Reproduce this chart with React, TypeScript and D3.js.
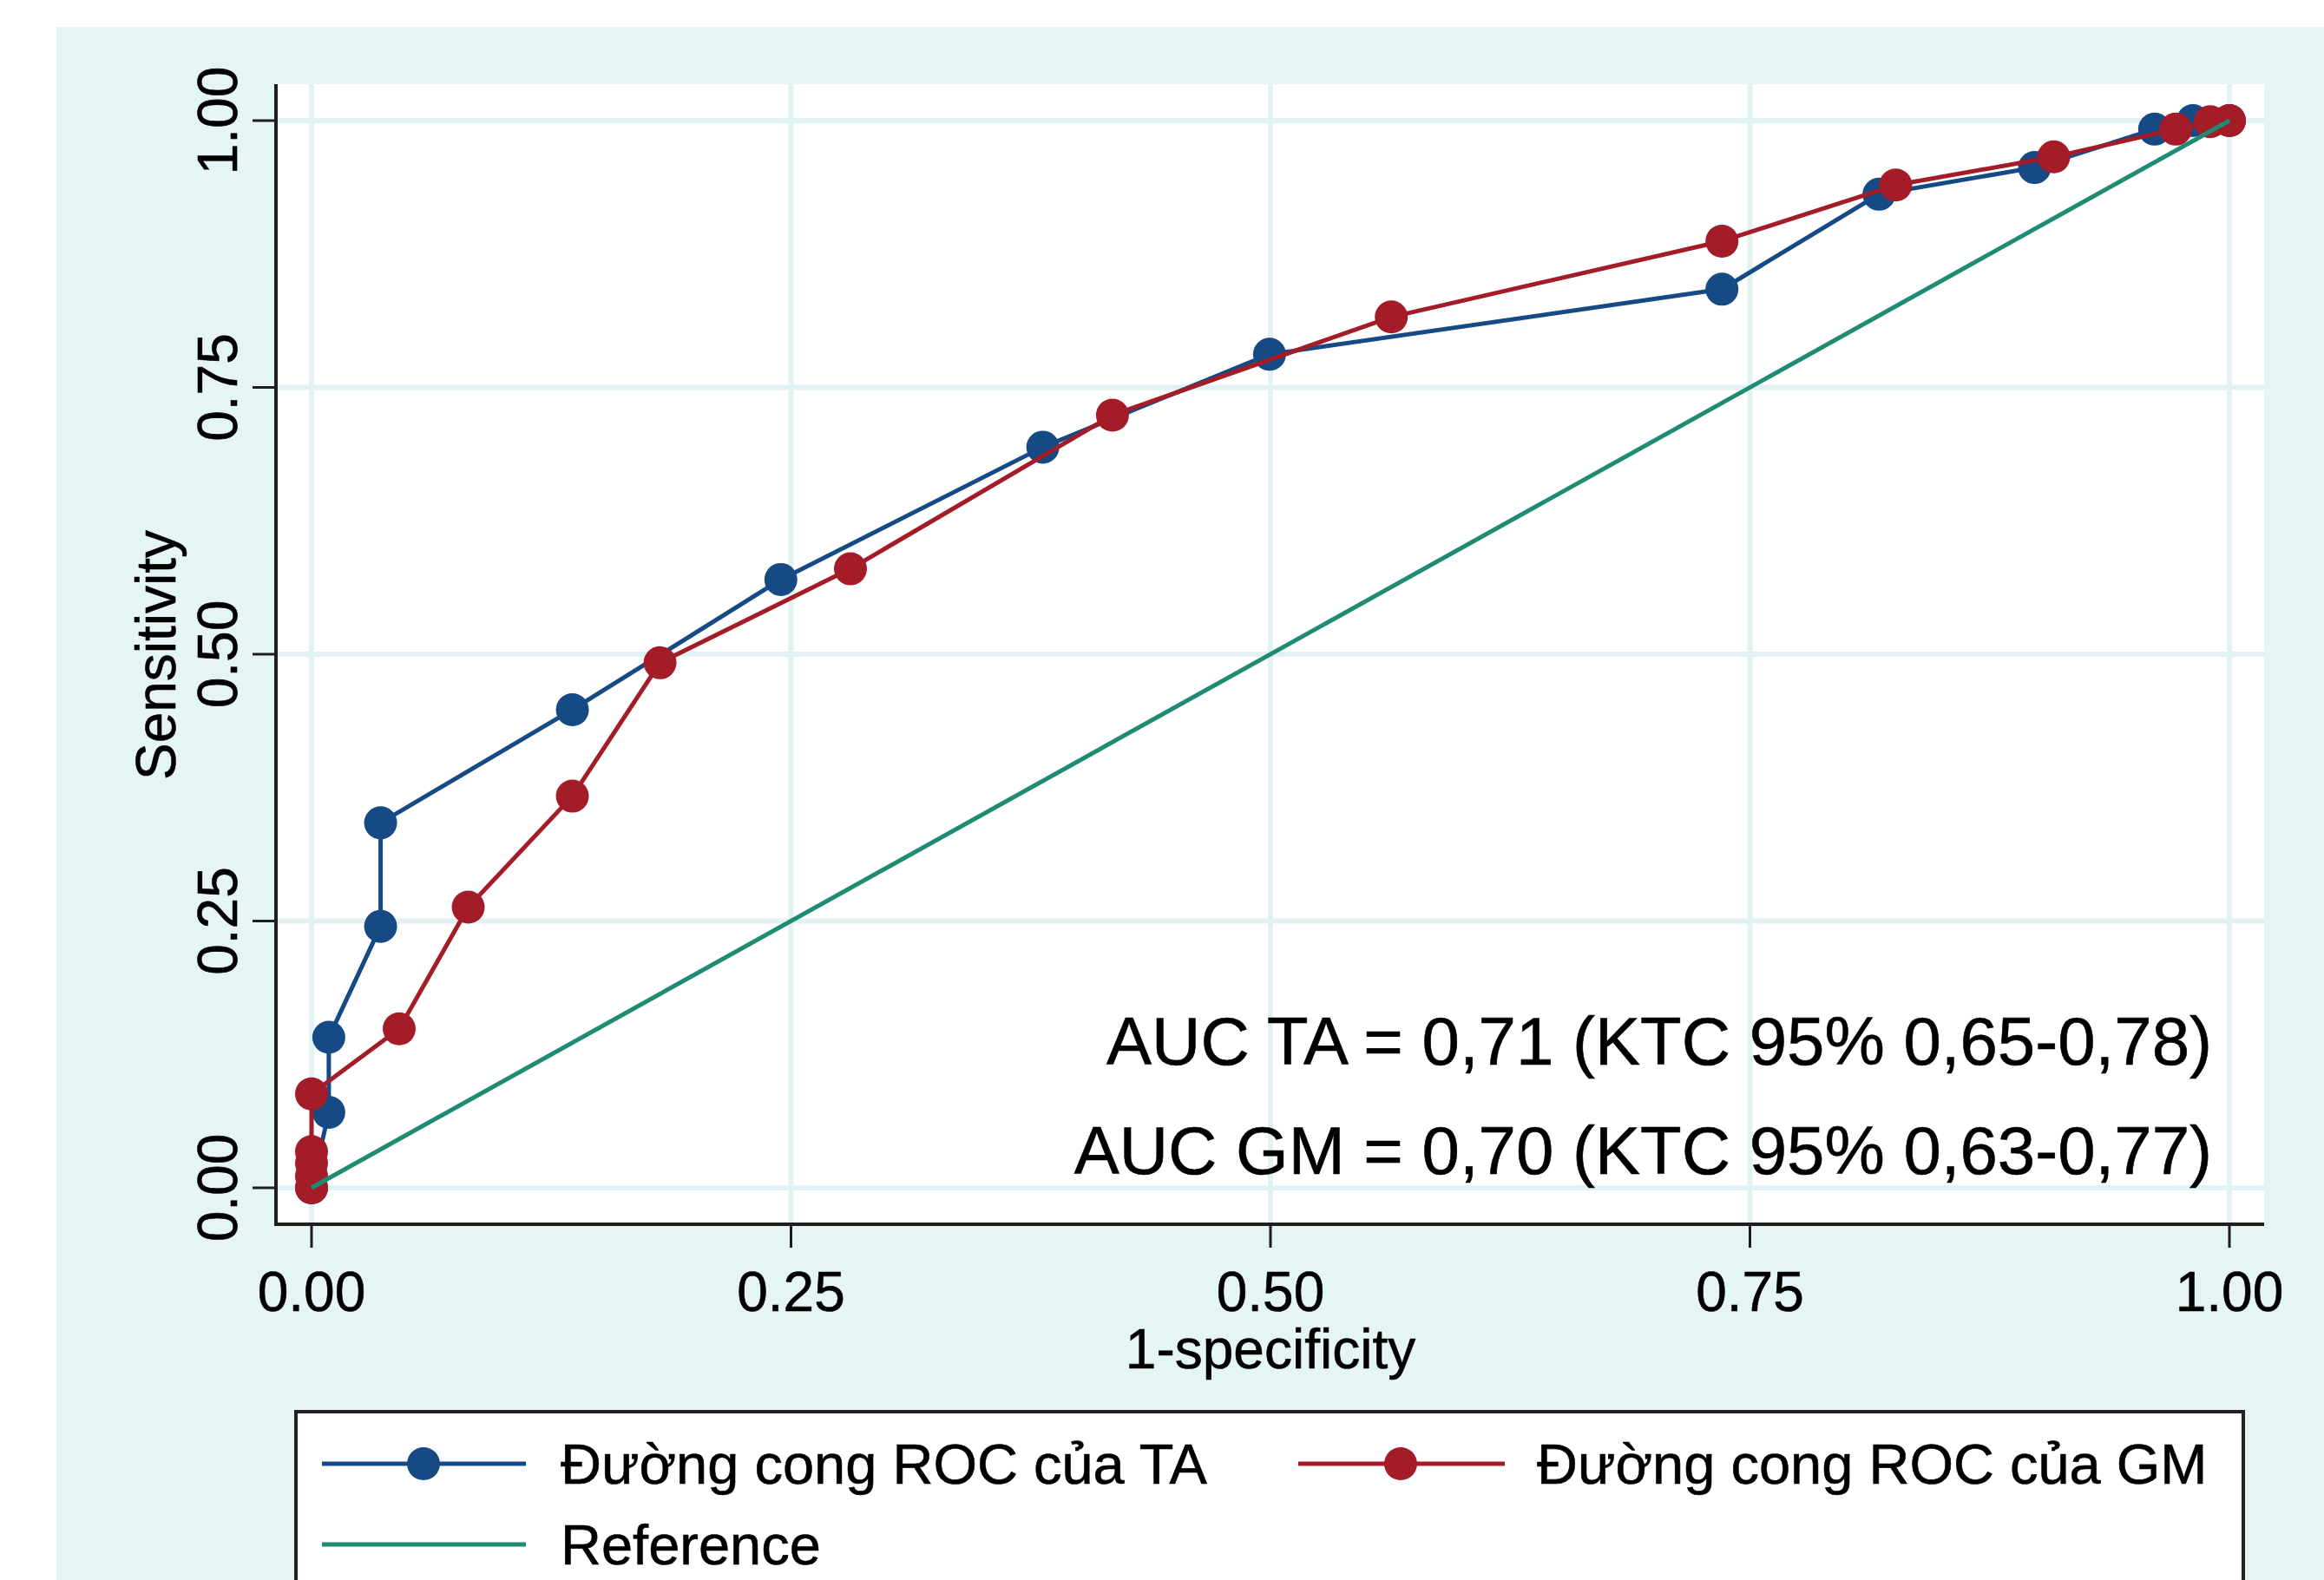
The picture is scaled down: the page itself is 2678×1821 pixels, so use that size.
import React from "react";
import * as d3 from "d3";

const TA_X = [0, 0.009, 0.009, 0.036, 0.036, 0.136, 0.2447, 0.3813, 0.4995, 0.7354, 0.8173, 0.8984, 0.961, 0.981, 1];
const TA_Y = [0, 0.0707, 0.141, 0.245, 0.342, 0.448, 0.570, 0.694, 0.781, 0.842, 0.931, 0.956, 0.992, 1.0, 1];

const GM_X = [0, 0, 0, 0, 0, 0.0457, 0.0817, 0.136, 0.1817, 0.281, 0.4176, 0.563, 0.7354, 0.826, 0.9084, 0.972, 0.99, 1];
const GM_Y = [0, 0.011, 0.023, 0.034, 0.088, 0.149, 0.263, 0.367, 0.492, 0.580, 0.724, 0.816, 0.887, 0.9396, 0.966, 0.992, 0.999, 1];

const REF_X = [0, 1];
const REF_Y = [0, 1];

const TICKS = [0, 0.25, 0.5, 0.75, 1];
const TICK_LABELS = ["0.00", "0.25", "0.50", "0.75", "1.00"];

const X_TITLE = "1-specificity";
const Y_TITLE = "Sensitivity";
const AUC_LINES = ["AUC TA = 0,71 (KTC 95% 0,65-0,78)", "AUC GM = 0,70 (KTC 95% 0,63-0,77)"];
const LEGEND_LABELS = ["Đường cong ROC của TA", "Đường cong ROC của GM", "Reference"];

const BLUE = "#154a84";
const RED = "#a31c28";
const GREEN = "#1f8b73";
const BG = "#e5f4f5";
const GRID = "#e2f1f4";
const FONT = "'Liberation Sans', Arial, sans-serif";

export default function App() {
  const W = 2678, H = 1821;
  const plot = { left: 318, right: 2609, top: 97, bottom: 1411 };
  const x = d3.scaleLinear().domain([0, 1]).range([359, 2569]);
  const y = d3.scaleLinear().domain([0, 1]).range([1369, 139]);
  const line = d3.line<[number, number]>().x((d) => x(d[0])).y((d) => y(d[1]));

  const ta = TA_X.map((v, i) => [v, TA_Y[i]] as [number, number]);
  const gm = GM_X.map((v, i) => [v, GM_Y[i]] as [number, number]);
  const ref = REF_X.map((v, i) => [v, REF_Y[i]] as [number, number]);

  const R = 19;
  const LW = 5;
  const textStroke = { stroke: "#000", strokeWidth: 0.6 };

  return (
    <svg width={W} height={H} style={{ position: "absolute", left: 0, top: 0 }} fontFamily={FONT}>
      <rect x={0} y={0} width={W} height={H} fill="#ffffff" />
      <rect x={65} y={31} width={W - 65} height={H - 31} fill={BG} />
      <rect x={plot.left} y={plot.top} width={plot.right - plot.left} height={plot.bottom - plot.top} fill="#ffffff" />
      {/* grid */}
      {TICKS.map((t, i) => (
        <g key={"g" + i}>
          <line x1={x(t)} x2={x(t)} y1={plot.top} y2={plot.bottom} stroke={GRID} strokeWidth={6} />
          <line x1={plot.left} x2={plot.right} y1={y(t)} y2={y(t)} stroke={GRID} strokeWidth={6} />
        </g>
      ))}
      {/* series TA */}
      <path d={line(ta) || ""} fill="none" stroke={BLUE} strokeWidth={LW} strokeLinejoin="round" />
      {ta.map((d, i) => (
        <circle key={"ta" + i} cx={x(d[0])} cy={y(d[1])} r={R} fill={BLUE} />
      ))}
      {/* series GM */}
      <path d={line(gm) || ""} fill="none" stroke={RED} strokeWidth={LW} strokeLinejoin="round" />
      {gm.map((d, i) => (
        <circle key={"gm" + i} cx={x(d[0])} cy={y(d[1])} r={R} fill={RED} />
      ))}
      {/* reference */}
      <path d={line(ref) || ""} fill="none" stroke={GREEN} strokeWidth={LW} />
      {/* axes */}
      <line x1={plot.left} x2={plot.left} y1={plot.top} y2={plot.bottom + 2} stroke="#1e1e1e" strokeWidth={4} />
      <line x1={plot.left - 2} x2={plot.right} y1={plot.bottom} y2={plot.bottom} stroke="#1e1e1e" strokeWidth={4} />
      {TICKS.map((t, i) => (
        <g key={"t" + i}>
          <line x1={x(t)} x2={x(t)} y1={plot.bottom} y2={plot.bottom + 27} stroke="#1e1e1e" strokeWidth={3} />
          <text x={x(t)} y={1511} fontSize={64} textAnchor="middle" fill="#000" {...textStroke}>{TICK_LABELS[i]}</text>
          <line x1={plot.left - 27} x2={plot.left} y1={y(t)} y2={y(t)} stroke="#1e1e1e" strokeWidth={3} />
          <text transform={`translate(273,${y(t)}) rotate(-90)`} fontSize={64} textAnchor="middle" fill="#000" {...textStroke}>{TICK_LABELS[i]}</text>
        </g>
      ))}
      <text x={1464} y={1577} fontSize={64} textAnchor="middle" fill="#000" {...textStroke}>{X_TITLE}</text>
      <text transform={`translate(202,755) rotate(-90)`} fontSize={64} textAnchor="middle" fill="#000" {...textStroke}>{Y_TITLE}</text>
      {/* AUC text */}
      <text x={2549} y={1227} fontSize={78} textAnchor="end" fill="#000" {...textStroke}>{AUC_LINES[0]}</text>
      <text x={2549} y={1353} fontSize={78} textAnchor="end" fill="#000" {...textStroke}>{AUC_LINES[1]}</text>
      {/* legend */}
      <rect x={341} y={1627} width={2585 - 341} height={300} fill="#ffffff" stroke="#222" strokeWidth={4} />
      <line x1={371} x2={606} y1={1687} y2={1687} stroke={BLUE} strokeWidth={LW} />
      <circle cx={488} cy={1687} r={R} fill={BLUE} />
      <text x={646} y={1710} fontSize={65} fill="#000" {...textStroke}>{LEGEND_LABELS[0]}</text>
      <line x1={1496} x2={1734} y1={1687} y2={1687} stroke={RED} strokeWidth={LW} />
      <circle cx={1614} cy={1687} r={R} fill={RED} />
      <text x={1771} y={1710} fontSize={65} fill="#000" {...textStroke}>{LEGEND_LABELS[1]}</text>
      <line x1={371} x2={606} y1={1780} y2={1780} stroke={GREEN} strokeWidth={LW} />
      <text x={646} y={1803} fontSize={65} fill="#000" {...textStroke}>{LEGEND_LABELS[2]}</text>
    </svg>
  );
}
